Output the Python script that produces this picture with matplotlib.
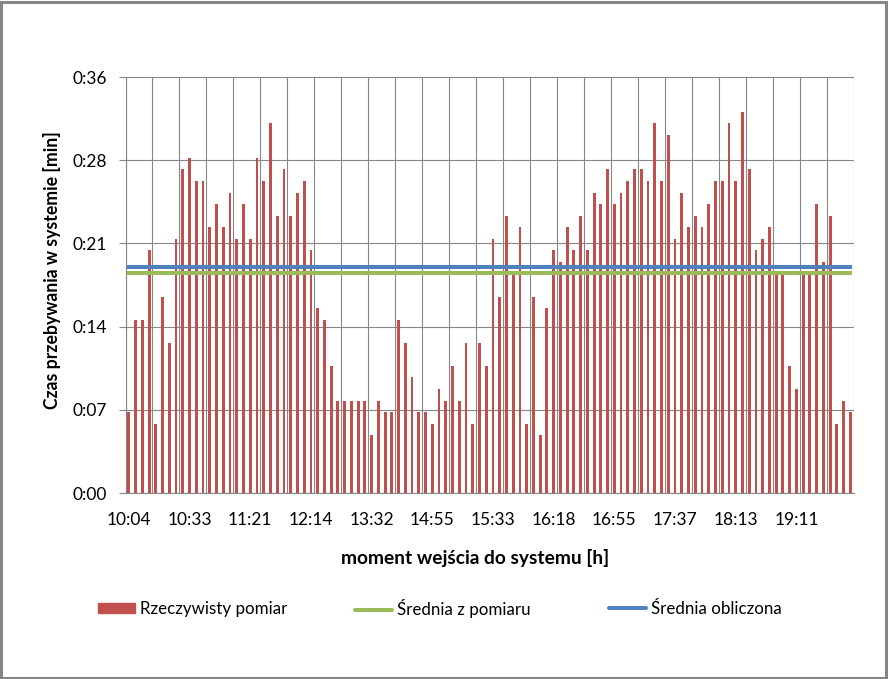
import matplotlib
matplotlib.use("Agg")
import matplotlib.pyplot as plt
from matplotlib.patches import Rectangle, Patch
from matplotlib.lines import Line2D
import numpy as np

# czas przebywania w systemie [min], 108 zgloszen
measured = [7, 15, 15, 21, 6, 17, 13, 22, 28, 29, 27, 27, 23, 25, 23, 26, 22, 25,
            22, 29, 27, 32, 24, 28, 24, 26, 27, 21, 16, 15, 11, 8, 8, 8, 8, 8,
            5, 8, 7, 7, 15, 13, 10, 7, 7, 6, 9, 8, 11, 8, 13, 6, 13, 11,
            22, 17, 24, 19, 23, 6, 17, 5, 16, 21, 20, 23, 21, 24, 21, 26, 25, 28,
            25, 26, 27, 28, 28, 27, 32, 27, 31, 22, 26, 23, 24, 23, 25, 27, 27, 32,
            27, 33, 28, 21, 22, 23, 19, 19, 11, 9, 19, 19, 25, 20, 24, 6, 8, 7]
mean_measured = 19.03
mean_calculated = 19.6

time_labels = ["10:04", "10:33", "11:21", "12:14", "13:32", "14:55",
               "15:33", "16:18", "16:55", "17:37", "18:13", "19:11"]
label_step = 9
y_ticks = [0, 7.2, 14.4, 21.6, 28.8, 36]
y_labels = ["0:00", "0:07", "0:14", "0:21", "0:28", "0:36"]

RED = "#C0504D"
GREEN = "#9BBB59"
BLUE = "#4F81BD"
GRAY = "#868686"

plt.rcParams["font.family"] = ["Lato", "DejaVu Sans"]

W, H = 888, 679
fig = plt.figure(figsize=(W / 100, H / 100), dpi=100)
ax = fig.add_axes([125.5 / W, 1 - 493 / H, (853.7 - 125.5) / W, (493 - 77) / H])

n = len(measured)
x = np.arange(n)
ax.bar(x, measured, width=0.42, color=RED, zorder=2)
ax.plot(x, [mean_measured] * n, color=GREEN, lw=2.9, zorder=3)
ax.plot(x, [mean_calculated] * n, color=BLUE, lw=2.9, zorder=3)

ax.set_xlim(-0.5, n - 0.5)
ax.set_ylim(0, 36)

# osie
ax.set_yticks(y_ticks)
ax.set_yticklabels(y_labels)
ax.set_xticks(x[::label_step][:len(time_labels)])
ax.set_xticklabels(time_labels)
ax.set_xticks(np.arange(-0.5, n, 4), minor=True)
ax.tick_params(axis="x", which="both", length=0, pad=14, labelsize=12.5, colors="black")
ax.tick_params(axis="y", length=5, width=0.8, color=GRAY, pad=8.5, labelsize=12.5)
ax.grid(axis="y", color=GRAY, lw=0.8)
ax.grid(axis="x", which="minor", color=GRAY, lw=0.8)
ax.grid(axis="x", which="major", visible=False)
ax.set_axisbelow(True)
for s in ["top", "right"]:
    ax.spines[s].set_visible(False)
for s in ["left", "bottom"]:
    ax.spines[s].set_color(GRAY)
    ax.spines[s].set_linewidth(0.8)

fig.text(52 / W, 1 - 270 / H, "Czas przebywania w systemie [min]", rotation=90,
         ha="center", va="center", fontsize=12.7, fontweight="bold")
fig.text(475 / W, 1 - 558 / H, "moment wejścia do systemu [h]",
         ha="center", va="center", fontsize=13.8, fontweight="bold")

# legenda - trzy rowne kolumny jak w Excelu
entries = [
    (Patch(color=RED), "Rzeczywisty pomiar", 98),
    (Line2D([], [], color=GREEN, lw=2.9, solid_capstyle="round"), "Średnia z pomiaru", 355),
    (Line2D([], [], color=BLUE, lw=2.9, solid_capstyle="round"), "Średnia obliczona", 609),
]
for handle, text, x0 in entries:
    fig.legend([handle], [text], loc="center left", bbox_to_anchor=(x0 / W, 1 - 609 / H),
               frameon=False, borderpad=0, borderaxespad=0, handlelength=2.2,
               handleheight=0.6, handletextpad=0.3, fontsize=12.2)

fig.add_artist(Rectangle((0.001, 0.0015), 0.997, 0.996, transform=fig.transFigure,
                         fill=False, edgecolor=GRAY, lw=2.2))

fig.savefig("out.png", dpi=100, facecolor="white")
